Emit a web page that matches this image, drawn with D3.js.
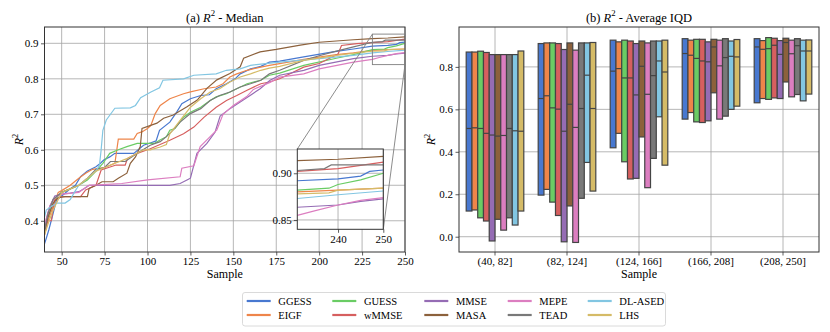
<!DOCTYPE html>
<html>
<head>
<meta charset="utf-8">
<script src="https://cdn.jsdelivr.net/npm/d3@7"></script>
<style>
  body { margin: 0; background: #fff; }
  svg, svg text, .tick text { font-family: "Liberation Serif", "DejaVu Serif", serif; }
</style>
</head>
<body>
<svg id="chart" width="830" height="332"></svg>
<script>
// ---- data ----
var methods = ["GGESS", "EIGF", "GUESS", "wMMSE", "MMSE", "MASA", "MEPE", "TEAD", "DL-ASED", "LHS"];
var palette = ["#4878d0", "#ee854a", "#6acc64", "#d65f5f", "#956cb4", "#8c613c", "#dc7ec0", "#797979", "#82c6e2", "#d5bb67"];

// (a) median R2 per sample size, [sample, value]
var ggess = [[40,0.335],[41,0.35],[42.5,0.374],[45,0.42],[47,0.459],[50,0.47],[55,0.49],[58,0.5],[61,0.524],[65,0.54],[70,0.552],[72.6,0.562],[74.5,0.571],[78,0.58],[81,0.59],[92,0.59],[97.7,0.613],[102,0.62],[105,0.625],[107,0.655],[113,0.678],[117,0.706],[120,0.73],[125,0.744],[131,0.753],[136,0.755],[140,0.772],[146,0.786],[151,0.8],[154,0.814],[160,0.828],[166,0.835],[171,0.847],[177,0.85],[191,0.862],[208,0.876],[220,0.884],[231,0.892],[240,0.894],[245,0.897],[247,0.902],[250,0.9035]];
var eigf = [[40,0.38],[42,0.4],[45,0.44],[48,0.48],[50,0.485],[55,0.5],[60,0.52],[64,0.534],[68,0.545],[75,0.55],[81,0.562],[83,0.63],[92,0.63],[94,0.646],[97,0.651],[100,0.66],[102,0.669],[104.5,0.702],[107.4,0.725],[113,0.744],[121,0.758],[125,0.763],[133,0.772],[140,0.777],[144,0.786],[148,0.805],[152,0.814],[158,0.824],[166,0.833],[171,0.838],[177,0.843],[191,0.855],[210,0.868],[220,0.873],[231,0.88],[240,0.882],[250,0.884]];
var guess = [[40,0.37],[42,0.41],[45,0.45],[48,0.47],[50,0.48],[55,0.49],[60,0.5],[65,0.515],[70,0.54],[74,0.562],[78,0.59],[83,0.6],[88,0.609],[94,0.618],[104,0.618],[107,0.627],[111,0.637],[113,0.655],[116,0.66],[121,0.692],[125,0.706],[131,0.72],[136.5,0.739],[140,0.749],[146,0.758],[152,0.772],[158,0.786],[166,0.796],[171,0.81],[177,0.816],[191,0.838],[210,0.858],[220,0.868],[231,0.882],[238,0.884],[240,0.888],[245,0.893],[250,0.9]];
var wmmse = [[40,0.36],[42,0.4],[44,0.4],[45.8,0.459],[50,0.468],[61,0.468],[64,0.487],[70,0.5],[73,0.543],[81.7,0.557],[87,0.557],[88.4,0.576],[94,0.59],[101.6,0.603],[113,0.627],[117,0.636],[121,0.645],[127,0.664],[133,0.692],[140,0.72],[146,0.739],[152,0.753],[158,0.768],[166,0.786],[171,0.791],[177,0.8],[191,0.833],[200,0.843],[211,0.87],[213,0.894],[222,0.899],[231,0.902],[240,0.905],[250,0.912]];
var mmse = [[40,0.38],[43,0.44],[46,0.47],[50,0.475],[55,0.478],[60,0.482],[63,0.49],[66,0.5],[113,0.5],[119,0.505],[123,0.515],[125,0.52],[128.8,0.59],[134.6,0.618],[139.4,0.65],[142.3,0.695],[148,0.716],[154,0.735],[160,0.754],[165.6,0.772],[171.4,0.796],[177,0.81],[191,0.824],[200,0.838],[220,0.857],[231,0.8636],[240,0.866],[245,0.87],[250,0.8725]];
var masa = [[40,0.37],[42,0.41],[45,0.45],[48,0.465],[52,0.468],[65,0.468],[66,0.491],[70,0.5],[73.5,0.51],[80,0.51],[83,0.52],[88,0.534],[90,0.562],[93,0.58],[95.8,0.609],[96.8,0.66],[105.5,0.675],[109.4,0.689],[115,0.698],[123,0.721],[129,0.74],[134.6,0.773],[140.4,0.797],[148,0.815],[154,0.834],[156,0.858],[165.6,0.876],[175,0.883],[189,0.895],[200,0.903],[220,0.91],[231,0.9135],[240,0.915],[250,0.918]];
var mepe = [[40,0.39],[43,0.44],[46,0.465],[50,0.475],[60,0.48],[63,0.49],[66,0.5],[85,0.505],[100,0.515],[119,0.524],[120,0.548],[127,0.555],[130.7,0.609],[136.5,0.637],[140.4,0.656],[144,0.7],[150,0.725],[157.8,0.75],[161.7,0.77],[171.4,0.79],[177,0.805],[191,0.814],[200,0.828],[220,0.847],[231,0.855],[235,0.86],[240,0.866],[245,0.871],[250,0.874]];
var tead = [[40,0.37],[42,0.42],[45,0.46],[50,0.48],[55,0.49],[60,0.5],[65,0.52],[70,0.545],[75,0.55],[78.4,0.567],[87,0.567],[94,0.59],[101.6,0.613],[107.4,0.623],[111,0.637],[115,0.656],[119,0.678],[125,0.702],[131,0.716],[136.5,0.739],[142,0.753],[148,0.763],[154,0.777],[160,0.786],[166,0.796],[171,0.814],[177,0.824],[191,0.852],[200,0.865],[210,0.878],[220,0.89],[231,0.903],[237,0.905],[238.5,0.909],[250,0.909]];
var dlased = [[40,0.41],[41,0.43],[44,0.44],[47,0.45],[52,0.45],[55,0.46],[58,0.485],[60,0.5],[65,0.52],[70,0.54],[72,0.556],[73,0.6],[74,0.655],[76,0.684],[81,0.717],[90,0.718],[93,0.725],[96,0.747],[102,0.763],[107,0.775],[109,0.796],[121,0.8],[127,0.81],[140,0.814],[146,0.824],[154,0.828],[160,0.838],[177,0.847],[200,0.857],[220,0.866],[231,0.873],[240,0.877],[250,0.881]];
var lhs = [[40,0.36],[42,0.39],[45,0.43],[48,0.46],[50,0.48],[55,0.49],[60,0.5],[65,0.52],[70,0.54],[75,0.55],[80,0.56],[88,0.575],[97.7,0.6],[101.6,0.6],[107.4,0.608],[111,0.615],[113,0.645],[119,0.683],[125,0.72],[131,0.744],[136.5,0.763],[142,0.772],[148,0.791],[154,0.805],[160,0.814],[166,0.824],[171,0.83],[177,0.835],[191,0.852],[210,0.866],[220,0.872],[231,0.878],[238,0.879],[240,0.882],[250,0.884]];
var medianSeries = [ggess, eigf, guess, wmmse, mmse, masa, mepe, tead, dlased, lhs];

var sampleTicks = [50, 75, 100, 125, 150, 175, 200, 225, 250];
var medianTicks = [0.4, 0.5, 0.6, 0.7, 0.8, 0.9];
var insetXTicks = [240, 250];
var insetYTicks = [0.85, 0.90];

// (b) average IQD per bin: rows = methods, columns = bins
var bins = ["(40, 82]", "(82, 124]", "(124, 166]", "(166, 208]", "(208, 250]"];
var iqdLow = [
  [0.121, 0.196, 0.419, 0.554, 0.631],
  [0.126, 0.223, 0.487, 0.585, 0.651],
  [0.089, 0.163, 0.353, 0.541, 0.647],
  [0.074, 0.100, 0.272, 0.538, 0.654],
  [-0.020, -0.024, 0.275, 0.546, 0.651],
  [0.082, 0.145, 0.470, 0.678, 0.729],
  [0.031, -0.027, 0.231, 0.554, 0.659],
  [0.089, 0.181, 0.369, 0.568, 0.670],
  [0.055, 0.350, 0.565, 0.600, 0.640],
  [0.121, 0.215, 0.337, 0.615, 0.672]
];
var iqdMid = [
  [0.510, 0.651, 0.780, 0.863, 0.894],
  [0.513, 0.664, 0.792, 0.855, 0.883],
  [0.510, 0.607, 0.748, 0.840, 0.886],
  [0.487, 0.601, 0.748, 0.828, 0.902],
  [0.479, 0.497, 0.668, 0.824, 0.859],
  [0.474, 0.624, 0.803, 0.894, 0.915],
  [0.477, 0.515, 0.671, 0.805, 0.862],
  [0.510, 0.604, 0.759, 0.844, 0.900],
  [0.499, 0.761, 0.828, 0.850, 0.875],
  [0.497, 0.604, 0.776, 0.847, 0.875]
];
var iqdHigh = [
  [0.870, 0.910, 0.926, 0.933, 0.933],
  [0.870, 0.913, 0.918, 0.926, 0.924],
  [0.874, 0.913, 0.926, 0.930, 0.938],
  [0.868, 0.910, 0.922, 0.930, 0.935],
  [0.858, 0.882, 0.910, 0.918, 0.924],
  [0.858, 0.913, 0.922, 0.930, 0.935],
  [0.858, 0.879, 0.913, 0.926, 0.926],
  [0.858, 0.913, 0.922, 0.933, 0.933],
  [0.858, 0.913, 0.922, 0.922, 0.926],
  [0.875, 0.915, 0.926, 0.929, 0.927]
];
var iqdTicks = [0.0, 0.2, 0.4, 0.6, 0.8];

// ---- drawing ----
var svg = d3.select("#chart");
var FONT = "'Liberation Serif', 'DejaVu Serif', serif";
var gridColor = "#a3a3a3";
var frameColor = "#333";

// R^2 text helper
function r2Text(sel, before, after, size) {
  sel.append("tspan").text(before);
  sel.append("tspan").attr("font-style", "italic").text("R");
  sel.append("tspan").attr("font-size", size * 0.7).attr("dy", -size * 0.42).text("2");
  sel.append("tspan").attr("dy", size * 0.42).text(after);
}

function styleAxis(g) {
  g.attr("font-family", FONT).attr("font-size", 11);
  g.select(".domain").remove();
  g.selectAll(".tick line").attr("stroke", frameColor).attr("stroke-width", 0.8);
  g.selectAll(".tick text").attr("fill", "#000").style("font-family", FONT);
}

// ===== panel (a) =====
var xA = d3.scaleLinear().domain([40, 250]).range([44.5, 405]);
var yA = d3.scaleLinear().domain([0.312, 0.946]).range([252, 27]);

svg.append("defs").append("clipPath").attr("id", "clipA")
  .append("rect").attr("x", 44.5).attr("y", 27).attr("width", 405 - 44.5).attr("height", 225);

var gA = svg.append("g");
gA.selectAll(".vgrid").data(sampleTicks).enter().append("line")
  .attr("x1", d => xA(d)).attr("x2", d => xA(d)).attr("y1", 27).attr("y2", 252)
  .attr("stroke", gridColor).attr("stroke-width", 0.8);
gA.selectAll(".hgrid").data(medianTicks).enter().append("line")
  .attr("x1", 44.5).attr("x2", 405).attr("y1", d => yA(d)).attr("y2", d => yA(d))
  .attr("stroke", gridColor).attr("stroke-width", 0.8);

var lineA = d3.line().x(d => xA(d[0])).y(d => yA(d[1]));
gA.append("g").attr("clip-path", "url(#clipA)")
  .selectAll("path").data(medianSeries).enter().append("path")
  .attr("d", lineA).attr("fill", "none")
  .attr("stroke", (d, i) => palette[i]).attr("stroke-width", 1.2);

gA.append("rect").attr("x", 44.5).attr("y", 27).attr("width", 405 - 44.5).attr("height", 225)
  .attr("fill", "none").attr("stroke", frameColor).attr("stroke-width", 1);

gA.append("g").attr("transform", "translate(0,252)")
  .call(d3.axisBottom(xA).tickValues(sampleTicks).tickSize(3.5).tickPadding(2).tickFormat(d3.format("d")))
  .call(styleAxis);
gA.append("g").attr("transform", "translate(44.5,0)")
  .call(d3.axisLeft(yA).tickValues(medianTicks).tickSize(3.5).tickPadding(2.5).tickFormat(d3.format(".1f")))
  .call(styleAxis);

// zoom box and connectors
var zx0 = xA(231), zx1 = xA(250), zy0 = yA(0.926), zy1 = yA(0.84);
gA.append("rect").attr("x", zx0).attr("y", zy0).attr("width", zx1 - zx0).attr("height", zy1 - zy0)
  .attr("fill", "none").attr("stroke", "#7f7f7f").attr("stroke-width", 0.9);

// inset
var xI = d3.scaleLinear().domain([231, 250]).range([297.3, 383.3]);
var yI = d3.scaleLinear().domain([0.84, 0.926]).range([229.3, 149]);
gA.append("line").attr("x1", xI.range()[0]).attr("y1", yI.range()[1]).attr("x2", zx0).attr("y2", zy0)
  .attr("stroke", "#7f7f7f").attr("stroke-width", 0.9);
gA.append("line").attr("x1", xI.range()[1]).attr("y1", yI.range()[0]).attr("x2", zx1).attr("y2", zy1)
  .attr("stroke", "#7f7f7f").attr("stroke-width", 0.9);

svg.select("defs").append("clipPath").attr("id", "clipI")
  .append("rect").attr("x", 297.3).attr("y", 149).attr("width", 86).attr("height", 80.3);
var gI = svg.append("g");
gI.append("rect").attr("x", 297.3).attr("y", 149).attr("width", 86).attr("height", 80.3).attr("fill", "#fff");
gI.selectAll(".vgrid").data(insetXTicks).enter().append("line")
  .attr("x1", d => xI(d)).attr("x2", d => xI(d)).attr("y1", 149).attr("y2", 229.3)
  .attr("stroke", gridColor).attr("stroke-width", 0.8);
gI.selectAll(".hgrid").data(insetYTicks).enter().append("line")
  .attr("x1", 297.3).attr("x2", 383.3).attr("y1", d => yI(d)).attr("y2", d => yI(d))
  .attr("stroke", gridColor).attr("stroke-width", 0.8);
var lineI = d3.line().x(d => xI(d[0])).y(d => yI(d[1]));
gI.append("g").attr("clip-path", "url(#clipI)")
  .selectAll("path").data(medianSeries).enter().append("path")
  .attr("d", lineI).attr("fill", "none")
  .attr("stroke", (d, i) => palette[i]).attr("stroke-width", 1.2);
gI.append("rect").attr("x", 297.3).attr("y", 149).attr("width", 86).attr("height", 80.3)
  .attr("fill", "none").attr("stroke", frameColor).attr("stroke-width", 1);
gI.append("g").attr("transform", "translate(0,229.3)")
  .call(d3.axisBottom(xI).tickValues(insetXTicks).tickSize(3.5).tickPadding(2).tickFormat(d3.format("d")))
  .call(styleAxis);
gI.append("g").attr("transform", "translate(297.3,0)")
  .call(d3.axisLeft(yI).tickValues(insetYTicks).tickSize(3.5).tickPadding(2).tickFormat(d3.format(".2f")))
  .call(styleAxis);

// labels (a)
svg.append("text").attr("x", 224.8).attr("y", 21.5).attr("text-anchor", "middle")
  .attr("font-size", 12.5).call(s => r2Text(s, "(a) ", " - Median", 12.5));
svg.append("text").attr("x", 224.8).attr("y", 277.5).attr("text-anchor", "middle")
  .attr("font-size", 12).text("Sample");
svg.append("text").attr("transform", "translate(23,139.5) rotate(-90)").attr("text-anchor", "middle")
  .attr("font-size", 12).call(s => r2Text(s, "", "", 12));

// ===== panel (b) =====
var xB = d3.scaleBand().domain(bins).range([459, 819]).padding(0);
var yB = d3.scaleLinear().domain([-0.072, 0.988]).range([252, 27]);
var xInner = d3.scaleBand().domain(d3.range(methods.length)).range([0, xB.bandwidth() * 0.8]);

var gB = svg.append("g");
gB.selectAll(".vgrid").data(bins).enter().append("line")
  .attr("x1", d => xB(d) + xB.bandwidth() / 2).attr("x2", d => xB(d) + xB.bandwidth() / 2)
  .attr("y1", 27).attr("y2", 252).attr("stroke", gridColor).attr("stroke-width", 0.8);
gB.selectAll(".hgrid").data(iqdTicks).enter().append("line")
  .attr("x1", 459).attr("x2", 819).attr("y1", d => yB(d)).attr("y2", d => yB(d))
  .attr("stroke", gridColor).attr("stroke-width", 0.8);

var barRows = [];
methods.forEach(function(m, i) {
  bins.forEach(function(b, j) {
    barRows.push({m: i, bin: b, lo: iqdLow[i][j], mid: iqdMid[i][j], hi: iqdHigh[i][j]});
  });
});
var barX = d => xB(d.bin) + xB.bandwidth() * 0.1 + xInner(d.m);
var bars = gB.selectAll(".bar").data(barRows).enter().append("g");
bars.append("rect")
  .attr("x", barX).attr("width", xInner.bandwidth())
  .attr("y", d => yB(d.hi)).attr("height", d => yB(d.lo) - yB(d.hi))
  .attr("fill", d => palette[d.m]).attr("stroke", "#444").attr("stroke-width", 1.2);
bars.append("line")
  .attr("x1", barX).attr("x2", d => barX(d) + xInner.bandwidth())
  .attr("y1", d => yB(d.mid)).attr("y2", d => yB(d.mid))
  .attr("stroke", "#444").attr("stroke-width", 1.2);

gB.append("rect").attr("x", 459).attr("y", 27).attr("width", 360).attr("height", 225)
  .attr("fill", "none").attr("stroke", frameColor).attr("stroke-width", 1);
gB.append("g").attr("transform", "translate(0,252)")
  .call(d3.axisBottom(xB).tickSize(3.5).tickPadding(2))
  .call(styleAxis);
gB.append("g").attr("transform", "translate(459,0)")
  .call(d3.axisLeft(yB).tickValues(iqdTicks).tickSize(3.5).tickPadding(2.5).tickFormat(d3.format(".1f")))
  .call(styleAxis);

svg.append("text").attr("x", 639).attr("y", 21.5).attr("text-anchor", "middle")
  .attr("font-size", 12.5).call(s => r2Text(s, "(b) ", " - Average IQD", 12.5));
svg.append("text").attr("x", 639).attr("y", 277.5).attr("text-anchor", "middle")
  .attr("font-size", 12).text("Sample");
svg.append("text").attr("transform", "translate(435,139.5) rotate(-90)").attr("text-anchor", "middle")
  .attr("font-size", 12).call(s => r2Text(s, "", "", 12));

// ===== legend =====
var legColX = [246.7, 332.3, 424.3, 507.7, 587.7];
var legRowY = [301, 315];
var legend = svg.append("g");
legend.append("rect").attr("x", 242.5).attr("y", 292.5).attr("width", 423).attr("height", 33.5)
  .attr("rx", 2.5).attr("fill", "#fff").attr("stroke", "#d0d0d0").attr("stroke-width", 0.8);
var items = legend.selectAll(".item").data(methods).enter().append("g")
  .attr("transform", (d, i) => `translate(${legColX[Math.floor(i / 2)]},${legRowY[i % 2]})`);
items.append("line").attr("x1", 0).attr("x2", 24).attr("y1", 0).attr("y2", 0)
  .attr("stroke", (d, i) => palette[i]).attr("stroke-width", 2.2);
items.append("text").attr("x", 31.6).attr("y", 3.8).attr("font-size", 10.5).text(d => d);
</script>
</body>
</html>
